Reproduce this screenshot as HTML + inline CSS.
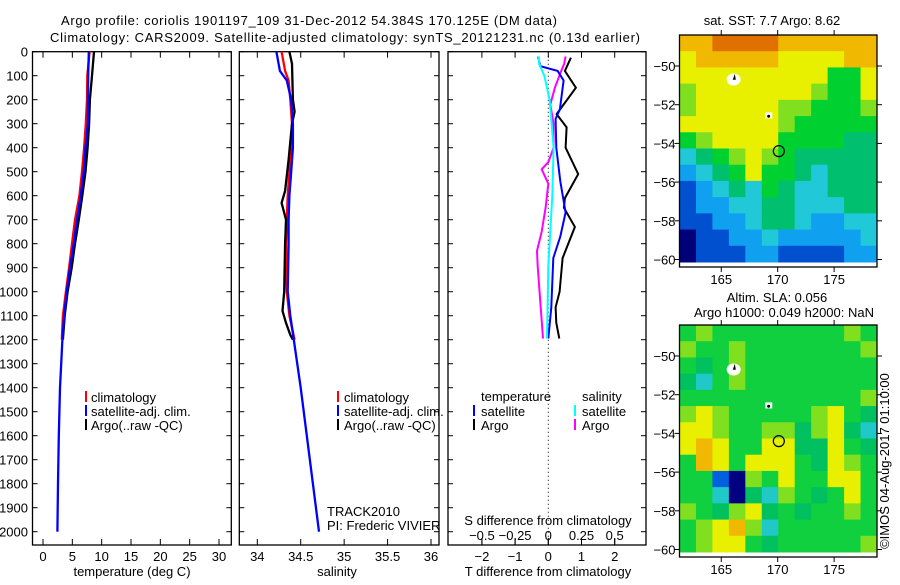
<!DOCTYPE html>
<html><head><meta charset="utf-8"><style>
body{margin:0;background:#fff;width:900px;height:580px;overflow:hidden}
svg{font-family:"Liberation Sans",Arial,sans-serif;font-size:13px}
</style></head><body>
<svg id="c" width="900" height="580" xmlns="http://www.w3.org/2000/svg">
<text x="309" y="25" text-anchor="middle" textLength="496">Argo profile: coriolis 1901197_109 31-Dec-2012 54.384S 170.125E (DM data)</text>
<text x="345" y="42" text-anchor="middle" textLength="590">Climatology: CARS2009. Satellite-adjusted climatology: synTS_20121231.nc (0.13d earlier)</text>
</svg>
<script>
const NS="http://www.w3.org/2000/svg";
const svg=document.getElementById('c');
function el(t,a,p){const e=document.createElementNS(NS,t);for(const k in a)e.setAttribute(k,a[k]);(p||svg).appendChild(e);return e;}
function txt(x,y,s,anchor,name,extra){const e=el('text',Object.assign({x:x,y:y,'text-anchor':anchor||'start'},extra||{}));e.textContent=s;


return e;}

// ---- data ----
const depthTicks=[0,100,200,300,400,500,600,700,800,900,1000,1100,1200,1300,1400,1500,1600,1700,1800,1900,2000];
const tempTicks=[0,5,10,15,20,25,30];
const salTicks=[34,34.5,35,35.5,36];
const tdTicks=[-2,-1,0,1,2];
const sdTicks=[-0.5,-0.25,0,0.25,0.5];
const sdTickLabels=['\u22120.5','\u22120.25','0','0.25','0.5'];

const profDepth=[0,100,200,300,400,500,600,700,800,900,1000,1100,1200];
const tClim=[7.95,7.55,7.5,7.3,7.0,6.65,6.2,5.45,4.95,4.45,3.9,3.4,3.2];
const tSat=[7.8,7.7,7.65,7.65,7.25,6.95,6.45,5.8,5.25,4.6,4.05,3.6,3.3];
const tArgo=[8.7,8.35,8.0,7.85,7.6,7.25,6.7,6.1,5.45,4.9,4.2,3.7,3.4];
const deepDepth=[1200,1400,1600,1800,2000];
const tDeep=[3.3,2.9,2.7,2.55,2.45];

const sDepthClim=[0,80,120,200,300,400,500,600,700,800,1000,1100,1200];
const sClim=[34.28,34.32,34.36,34.38,34.40,34.39,34.37,34.35,34.34,34.33,34.34,34.37,34.43];
const sSat=[34.22,34.26,34.34,34.39,34.41,34.41,34.39,34.37,34.36,34.36,34.35,34.38,34.42];
const sArgoDepth=[0,50,200,250,300,450,580,630,700,800,1000,1080,1130,1180,1200];
const sArgo=[34.37,34.4,34.41,34.43,34.40,34.36,34.32,34.28,34.33,34.32,34.31,34.29,34.33,34.38,34.41];
const sDeep=[34.42,34.5,34.57,34.64,34.71];

const dTArgoDepth=[25,80,150,260,315,400,510,610,650,730,860,1000,1065,1130,1195];
const dTArgo=[0.68,0.5,0.83,0.25,0.55,0.52,0.9,0.5,0.47,0.8,0.43,0.34,0.22,0.24,0.33];
const dTSatDepth=[20,60,80,120,240,280,400,540,670,770,860,1065,1195];
const dTSat=[-0.3,-0.25,0.28,0.46,0.35,0.22,0.24,0.36,0.52,0.36,0.15,0.09,0.0];
const dSArgoDepth=[20,50,90,150,220,300,400,460,490,550,650,750,830,895,1195];
const dSArgo=[0.13,0.12,0.09,0.05,0.015,0.04,0.04,0.0,-0.05,0.0,-0.02,-0.05,-0.085,-0.08,-0.04];
const dSSatDepth=[20,50,100,200,400,600,895,1195];
const dSSat=[-0.07,-0.07,-0.03,0.01,0.04,0.03,0.0,-0.01];

// SST map levels (rows north->south, 12 cols)
const sstGrid=[
[8,8,9,9,9,9,8,8,8,8,8,8],
[7,8,8,8,8,8,7,7,7,7,8,8],
[7,7,7,7,7,7,7,7,7,5,5,7],
[6,7,7,7,7,7,7,7,6,5,5,7],
[6,7,7,7,7,7,6,6,5,5,5,6],
[7,7,7,7,7,7,6,5,5,5,5,5],
[5,6,7,7,7,7,5,5,5,5,4,4],
[3,4,5,6,7,6,5,4,4,4,4,4],
[2,3,4,5,7,5,5,4,3,4,4,4],
[1,2,3,4,3,5,4,3,3,4,4,4],
[1,2,2,3,3,4,4,3,3,3,4,4],
[1,1,2,2,3,4,4,3,2,2,3,3],
[0,1,1,2,2,3,2,2,2,2,2,3],
[0,1,1,1,2,2,1,1,1,1,2,2]];
const slaGrid=[
[5,6,5,5,5,5,5,5,5,5,6,5],
[6,5,5,6,5,5,5,5,5,5,5,6],
[5,4,5,6,5,5,5,5,5,5,5,5],
[4,3,5,6,5,5,5,5,5,5,5,5],
[5,5,5,5,5,5,5,5,5,5,5,6],
[6,7,6,5,5,5,5,5,6,7,5,4],
[7,7,6,5,5,6,6,4,6,7,4,3],
[7,8,7,5,5,7,7,4,4,7,5,4],
[5,8,7,5,7,7,7,5,4,7,6,5],
[5,5,1,0,6,5,7,5,5,7,7,5],
[5,5,3,0,4,3,6,5,4,5,7,5],
[6,5,4,6,7,4,5,4,5,5,6,5],
[5,6,7,8,6,3,5,5,5,5,5,5],
[5,6,7,7,5,4,5,5,5,5,5,6]];
const sstPalette=['#00007a','#0050d0','#10a0f0','#20c8d8','#00c070','#00d030','#80e020','#e8f000','#f0b800','#e07000'];
const slaPalette=['#000080','#0060e0','#10a0f0','#20c8c8','#00c060','#10d040','#80e020','#e8f000','#f0b800','#e07000'];
const lonTicks=[165,170,175];
const latTicks=[50,52,54,56,58,60];

// ---- axis functions ----
const Y0=51.7, Y1=531.7;
const yD=d=>Y0+(d/2000)*(Y1-Y0);
const xT=t=>43+t*(219-43)/30;
const xS=s=>257.3+(s-34)*(431-257.3)/2;
const xTD=v=>548.3+v*33.2;
const xSD=v=>548.3+v*33.2*4;

function box(x0,x1,name){el('rect',{x:x0,y:Y0,width:x1-x0,height:545-Y0,fill:'none',stroke:'#000','stroke-width':1.3,});}
function line(xs,ds,fx,color,name,w){
 const p=xs.map((v,i)=>fx(v).toFixed(1)+','+yD(ds[i]).toFixed(1)).join(' ');
 const e=el('polyline',{points:p,fill:'none',stroke:color,'stroke-width':w||2.3});
 
 
}
function xticks(vals,fx,labels,ly,name,top){
 vals.forEach((v,i)=>{const x=fx(v);
  el('line',{x1:x,x2:x,y1:545,y2:539,stroke:'#000'});
  if(top)el('line',{x1:x,x2:x,y1:Y0,y2:Y0+6,stroke:'#000'});
  txt(x,ly,labels?labels[i]:String(v),'middle',name);});
}
function yticks(x0,x1){depthTicks.forEach(d=>{const y=yD(d);
 el('line',{x1:x0,x2:x0+5,y1:y,y2:y,stroke:'#000'});el('line',{x1:x1-5,x2:x1,y1:y,y2:y,stroke:'#000'});});}

// panel 1
box(32.5,231.3,'temperature-panel');
yticks(32.5,231.3);
depthTicks.forEach(d=>txt(28,yD(d)+5,String(d),'end','depth-tick-label'));
xticks(tempTicks,xT,null,561,'temperature-tick-label',true);
txt(132,576,'temperature (deg C)','middle','x-axis-title-temperature');
line(tClim,profDepth,xT,'#ff0000','temp-climatology-line');
line(tArgo,profDepth,xT,'#000000','temp-argo-line');
line(tSat,profDepth,xT,'#0000ff','temp-satellite-line');
line(tDeep,deepDepth,xT,'#0000ff','temp-deep-line');

// panel 2
box(239.3,439,'salinity-panel');
yticks(239.3,439);
xticks(salTicks,xS,null,561,'salinity-tick-label',true);
txt(337,576,'salinity','middle','x-axis-title-salinity');
line(sClim,sDepthClim,xS,'#ff0000','sal-climatology-line');
line(sArgo,sArgoDepth,xS,'#000000','sal-argo-line');
line(sSat,sDepthClim,xS,'#0000ff','sal-satellite-line');
line(sDeep,deepDepth,xS,'#0000ff','sal-deep-line');
txt(327,516,'TRACK2010','start','project-label');
txt(327,530,'PI: Frederic VIVIER','start','pi-label');

// legends panels 1 & 2
[[85,'#ff0000','climatology'],[85,'#0000ff','satellite-adj. clim.'],[85,'#000','Argo(..raw -QC)']].forEach((l,i)=>{
 [[85,91],[337,344]].forEach(([mx,tx],j)=>{const y=397+i*14;
  el('rect',{x:mx,y:y-6,width:2,height:11,fill:l[1]});
  txt(tx,y+5,l[2],'start','legend-entry');});});

// panel 3
box(448,646,'difference-panel');
yticks(448,646);
tdTicks.forEach(v=>{const x=xTD(v);el('line',{x1:x,x2:x,y1:545,y2:539,stroke:'#000'});el('line',{x1:x,x2:x,y1:Y0,y2:Y0+6,stroke:'#000'});});
sdTicks.forEach(v=>{const x=xSD(v);el('line',{x1:x,x2:x,y1:545,y2:538,stroke:'#000'});});
tdTicks.forEach(v=>txt(xTD(v),561,v<0?'\u2212'+(-v):String(v),'middle','t-diff-tick-label'));
sdTicks.forEach((v,i)=>txt(xSD(v),540,sdTickLabels[i],'middle','s-diff-tick-label'));
txt(548,525,'S difference from climatology','middle','s-diff-axis-title');
txt(548,576,'T difference from climatology','middle','t-diff-axis-title');
el('line',{x1:548.3,x2:548.3,y1:Y0,y2:545,stroke:'#000','stroke-dasharray':'1,3',});
line(dSArgo,dSArgoDepth,xSD,'#ff00ff','s-diff-argo-line',2);
line(dTArgo,dTArgoDepth,xTD,'#000000','t-diff-argo-line',2);
line(dTSat,dTSatDepth,xTD,'#0000ff','t-diff-satellite-line',2);
line(dSSat,dSSatDepth,xSD,'#00ffff','s-diff-satellite-line',2);
txt(481,401,'temperature','start','legend-heading-temperature');
txt(582,401,'salinity','start','legend-heading-salinity');
[['#0000ff','satellite',473,481,0],['#000','Argo',473,481,1],['#00ffff','satellite',574,582,0],['#ff00ff','Argo',574,582,1]].forEach(l=>{
 const y=411+l[4]*14;el('rect',{x:l[2],y:y-6,width:2,height:11,fill:l[0]});txt(l[3],y+5,l[1],'start','legend-entry');});

// maps
function map(top,bot,dataBot,grid,pal,name,latLblOffset){
 const x0=679.5,x1=877;
 const lon=v=>x0+(v-161.3)*(x1-x0)/(178.8-161.3);
 const lat50=top+31, lat60=top+224.5;
 const lat=v=>lat50+(v-50)*(lat60-lat50)/10;
 const g=el('g',{});
 
 
 const rows=grid.length,cols=grid[0].length,cw=(x1-x0)/cols,ch=(dataBot-top)/rows;
 grid.forEach((r,i)=>r.forEach((v,j)=>{const c=el('rect',{x:x0+j*cw,y:top+i*ch,width:cw+0.5,height:ch+0.5,fill:pal[v]},g);
  
  }));
 el('rect',{x:x0,y:top,width:x1-x0,height:bot-top,fill:'none',stroke:'#000','stroke-width':1.3});
 latTicks.forEach(v=>{const y=lat(v);el('line',{x1:x0-5,x2:x0,y1:y,y2:y,stroke:'#000'});el('line',{x1:x1,x2:x1+5,y1:y,y2:y,stroke:'#000'});
  txt(x0-4,y+5,'\u2212'+v,'end','latitude-tick-label');});
 lonTicks.forEach(v=>{const x=lon(v);el('line',{x1:x,x2:x,y1:top-5,y2:top,stroke:'#000'});el('line',{x1:x,x2:x,y1:bot,y2:bot+5,stroke:'#000'});
  txt(x,bot+17,String(v),'middle','longitude-tick-label');});
 el('ellipse',{cx:lon(166.1),cy:lat(50.7),rx:7,ry:6,fill:'#fff'});
 el('path',{d:`M${lon(166.2)} ${lat(50.4)} l-2 6 l3 0 z`,fill:'#000'});
 el('rect',{x:lon(168.9),y:lat(52.4),width:7,height:6,fill:'#fff'});
 el('circle',{cx:lon(169.2),cy:lat(52.6),r:1.5,fill:'#000'});
 const c=el('circle',{cx:lon(170.1),cy:lat(54.4),r:5.5,fill:'none',stroke:'#000','stroke-width':1.2});
 
 
}
map(35,267,262,sstGrid,sstPalette,'sst-map');
map(325,557,552,slaGrid,slaPalette,'sla-map');
txt(772,25,'sat. SST: 7.7 Argo: 8.62','middle','sst-map-title');
txt(777,302,'Altim. SLA: 0.056','middle','sla-map-title');
txt(784,317,'Argo h1000: 0.049 h2000: NaN','middle','sla-map-subtitle');
txt(0,0,'\u00a9IMOS 04-Aug-2017 01:10:00','middle','imos-credit',{transform:'translate(889,461) rotate(-90)'});
</script>
</body></html>
